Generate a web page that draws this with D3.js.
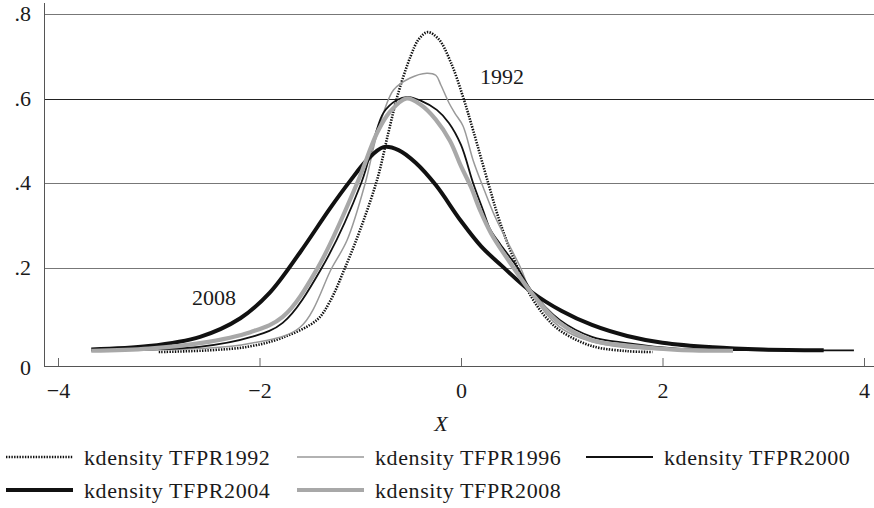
<!DOCTYPE html>
<html>
<head>
<meta charset="utf-8">
<script src="https://cdn.jsdelivr.net/npm/d3@7"></script>
</head>
<body style="margin:0; background:#fff">
<div id="chart"></div>
<script>
const svgWidth = 874;
const svgHeight = 508;

// axis ticks
const xTicks = [-4, -2, 0, 2, 4];
const yTicks = [0.2, 0.4, 0.6, 0.8];

// kernel density curves
const x1992 = [-3.0, -2.5, -2.1, -1.77, -1.43, -1.3, -1.15, -1.0, -0.83, -0.72, -0.62, -0.5, -0.42, -0.33, -0.22, -0.1, 0.02, 0.12, 0.27, 0.39, 0.56, 0.7, 0.85, 1.0, 1.3, 1.65, 1.9];
const y1992 = [0.0, 0.004, 0.013, 0.034, 0.076, 0.12, 0.2, 0.29, 0.41, 0.52, 0.615, 0.70, 0.74, 0.757, 0.74, 0.685, 0.604, 0.525, 0.40, 0.305, 0.2, 0.13, 0.08, 0.048, 0.014, 0.002, 0.0];

const x1996 = [-3.5, -2.6, -2.1, -1.6, -1.28, -1.13, -0.95, -0.83, -0.67, -0.51, -0.34, -0.25, -0.2, -0.12, -0.06, 0.02, 0.12, 0.22, 0.32, 0.42, 0.59, 0.7, 0.98, 1.3, 1.65, 2.1, 2.7];
const y1996 = [0.004, 0.008, 0.02, 0.058, 0.2, 0.265, 0.4, 0.518, 0.62, 0.648, 0.66, 0.655, 0.632, 0.59, 0.565, 0.535, 0.454, 0.39, 0.33, 0.28, 0.2, 0.14, 0.059, 0.024, 0.01, 0.005, 0.003];

const x2000 = [-3.3, -2.6, -2.09, -1.77, -1.38, -0.99, -0.77, -0.64, -0.53, -0.4, -0.24, -0.12, 0.0, 0.12, 0.22, 0.29, 0.39, 0.56, 0.7, 0.98, 1.3, 1.65, 2.15, 3.0, 3.9];
const y2000 = [0.005, 0.012, 0.035, 0.069, 0.2, 0.4, 0.566, 0.596, 0.604, 0.595, 0.573, 0.542, 0.49, 0.40, 0.335, 0.29, 0.255, 0.2, 0.145, 0.076, 0.036, 0.021, 0.008, 0.004, 0.004];

const x2004 = [-3.67, -3.1, -2.59, -2.19, -1.9, -1.6, -1.3, -1.1, -0.93, -0.77, -0.62, -0.45, -0.25, 0.0, 0.2, 0.4, 0.7, 1.0, 1.3, 1.65, 2.0, 2.5, 3.0, 3.6];
const y2004 = [0.006, 0.014, 0.036, 0.08, 0.14, 0.235, 0.34, 0.405, 0.455, 0.485, 0.478, 0.448, 0.395, 0.31, 0.25, 0.205, 0.142, 0.097, 0.064, 0.038, 0.022, 0.011, 0.006, 0.004];

const x2008 = [-3.67, -3.1, -2.59, -2.09, -1.77, -1.42, -1.03, -0.83, -0.7, -0.54, -0.4, -0.25, -0.11, 0.0, 0.1, 0.19, 0.3, 0.52, 0.7, 0.98, 1.3, 1.65, 2.15, 2.7];
const y2008 = [0.003, 0.008, 0.021, 0.047, 0.083, 0.2, 0.4, 0.52, 0.57, 0.60, 0.585, 0.55, 0.50, 0.44, 0.39, 0.335, 0.28, 0.2, 0.14, 0.069, 0.028, 0.015, 0.005, 0.003];

const series = [
  { name: "kdensity TFPR1992", xs: x1992, ys: y1992, color: "#111", width: 2.6, dash: "1.4 1.3" },
  { name: "kdensity TFPR1996", xs: x1996, ys: y1996, color: "#999", width: 1.5, dash: null },
  { name: "kdensity TFPR2000", xs: x2000, ys: y2000, color: "#111", width: 1.8, dash: null },
  { name: "kdensity TFPR2004", xs: x2004, ys: y2004, color: "#111", width: 4, dash: null },
  { name: "kdensity TFPR2008", xs: x2008, ys: y2008, color: "#a8a8a8", width: 4.2, dash: null }
];

const svg = d3.select("#chart")
  .append("svg")
  .attr("width", svgWidth)
  .attr("height", svgHeight);

// plot frame
const axisX = 44;
const axisY = 366;
const plotRight = 874;
const fontSize = 22;
const serif = '"Liberation Serif", serif';

const xScale = d3.scaleLinear()
  .domain([-4, 4])
  .range([58, 864]);

const yScale = d3.scaleLinear()
  .domain([0, 0.8])
  .range([352, 14]);

// gridlines (the .6 one prints darker in the original)
svg.append("g")
  .selectAll("line")
  .data(yTicks)
  .enter()
  .append("line")
  .attr("x1", axisX)
  .attr("x2", plotRight)
  .attr("y1", d => Math.round(yScale(d)) + 0.5)
  .attr("y2", d => Math.round(yScale(d)) + 0.5)
  .attr("stroke", d => d === 0.6 ? "#222" : "#777")
  .attr("stroke-width", 1);

// y labels
svg.append("g")
  .selectAll("text")
  .data(yTicks)
  .enter()
  .append("text")
  .attr("x", 31)
  .attr("y", d => yScale(d))
  .attr("dy", "0.33em")
  .attr("text-anchor", "end")
  .text(d => d3.format(".1f")(d).replace(/^0/, ""));

svg.append("text")
  .attr("x", 31)
  .attr("y", axisY + 2)
  .attr("dy", "0.33em")
  .attr("text-anchor", "end")
  .text("0");

// x axis, ticks pointing inward
const bottomAxis = d3.axisBottom(xScale)
  .tickValues(xTicks)
  .tickSizeInner(-8)
  .tickSizeOuter(0)
  .tickPadding(16)
  .tickFormat(d => d3.format("d")(d).replace("-", "\u2212\u2009"));

const xAxisG = svg.append("g")
  .attr("transform", `translate(0, ${axisY})`)
  .call(bottomAxis);

xAxisG.select(".domain").remove();
xAxisG.selectAll(".tick line").attr("stroke", "#666");

// axis lines
svg.append("line")
  .attr("x1", axisX).attr("x2", plotRight)
  .attr("y1", axisY + 0.5).attr("y2", axisY + 0.5)
  .attr("stroke", "#555");

svg.append("line")
  .attr("x1", axisX + 0.5).attr("x2", axisX + 0.5)
  .attr("y1", 3).attr("y2", axisY + 1)
  .attr("stroke", "#555");

// curves
const line = d3.line()
  .x(d => xScale(d[0]))
  .y(d => yScale(d[1]))
  .curve(d3.curveCatmullRom.alpha(0.5));

series.forEach(s => {
  const pts = s.xs.map((x, i) => [x, s.ys[i]]);
  svg.append("path")
    .datum(pts)
    .attr("d", line)
    .attr("fill", "none")
    .attr("stroke", s.color)
    .attr("stroke-width", s.width)
    .attr("stroke-dasharray", s.dash)
    .attr("stroke-linejoin", "round");
});

// curve labels
svg.append("text")
  .attr("x", 480)
  .attr("y", 84)
  .text("1992");

svg.append("text")
  .attr("x", 192)
  .attr("y", 305)
  .text("2008");

// x title
svg.append("text")
  .attr("x", 441)
  .attr("y", 431)
  .attr("text-anchor", "middle")
  .style("font-style", "italic")
  .text("X");

// legend
const legendPos = [
  { x: 6, y: 457 }, { x: 297, y: 457 }, { x: 586, y: 457 },
  { x: 6, y: 490 }, { x: 297, y: 490 }
];

const legend = svg.append("g")
  .selectAll("g")
  .data(series)
  .enter()
  .append("g")
  .attr("transform", (d, i) => `translate(${legendPos[i].x}, ${legendPos[i].y})`);

legend.append("line")
  .attr("x1", 0)
  .attr("x2", 67)
  .attr("stroke", d => d.color)
  .attr("stroke-width", d => d.width)
  .attr("stroke-dasharray", d => d.dash);

legend.append("text")
  .attr("x", 78)
  .attr("y", 8)
  .style("letter-spacing", "0.6px")
  .text(d => d.name);

// one font for every label
svg.selectAll("text")
  .style("font-family", serif)
  .style("font-size", fontSize + "px")
  .attr("fill", "#1a1a1a");
</script>
</body>
</html>
